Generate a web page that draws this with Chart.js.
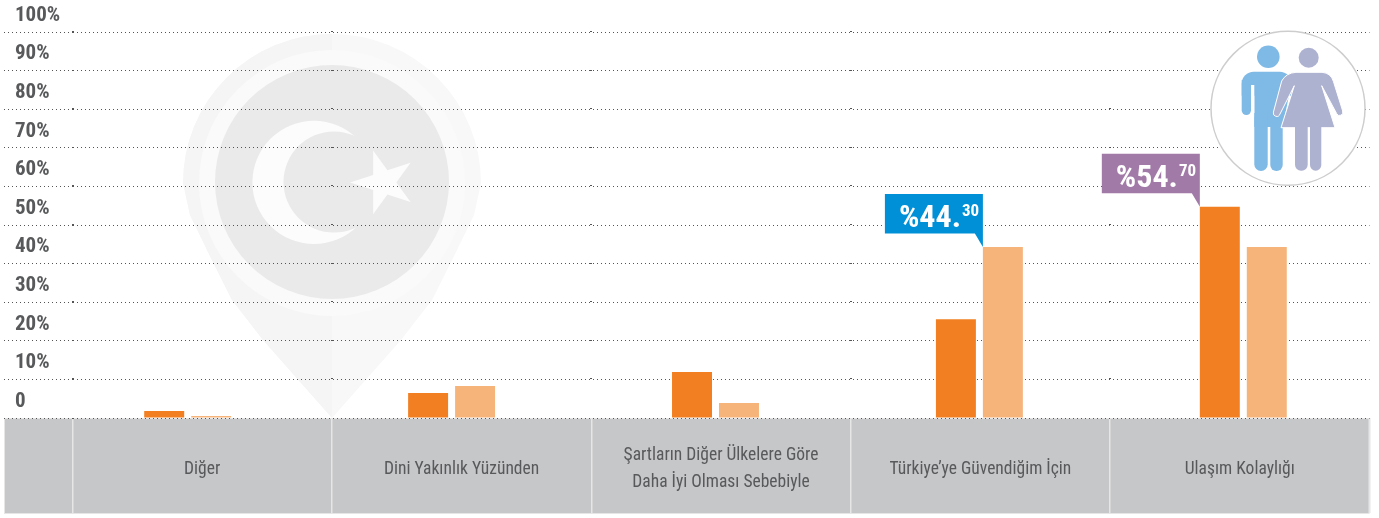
<!DOCTYPE html>
<html><head><meta charset="utf-8">
<style>html,body{margin:0;padding:0;background:#fff}#w{position:relative;width:1379px;height:518px}</style>
<script src="https://cdn.jsdelivr.net/npm/chart.js@4"></script></head>
<body><div id="w"><canvas id="c" width="1379" height="518"></canvas></div>
<script>
const categories = ["Diğer","Dini Yakınlık Yüzünden",["Şartların Diğer Ülkelere Göre","Daha İyi Olması Sebebiyle"],"Türkiye’ye Güvendiğim İçin","Ulaşım Kolaylığı"];
const barIndex = [0,1,2,3,4];
const darkValues = [1.8,6.5,11.9,25.6,54.7];
const lightValues = [0.5,8.3,3.9,44.3,44.3];
const callouts = [
  {series:1,index:3,main:"%44.",sup:"30",color:"#0090d7"},
  {series:0,index:4,main:"%54.",sup:"70",color:"#a27aa8"}
];
const narrow = '"Roboto Condensed","Open Sans Condensed","Roboto"';

const backdrop = {id:'backdrop',beforeDraw(chart){
  const c=chart.ctx,a=chart.chartArea;
  c.save();
  // grey label band
  c.fillStyle='#c6c7c9';
  c.fillRect(4,a.bottom,a.right-4,95);
  c.strokeStyle='#e6e6e6';c.lineWidth=1;
  c.strokeRect(4.5,a.bottom+0.5,a.right-5,95);
  // watermark pin
  const x=332,y=183,R=149;
  const edge=[[0,149],[32,142],[67,125],[117,100],[157,69],[235,0]];
  const half=()=>{c.beginPath();c.arc(x,y,R,Math.PI,0,false);
    edge.forEach(p=>c.lineTo(x+p[1],y+p[0]));
    edge.slice().reverse().forEach(p=>c.lineTo(x-p[1],y+p[0]));c.closePath();};
  half();c.fillStyle='#f8f8f8';c.fill();
  c.save();half();c.clip();c.fillStyle='#f5f5f5';c.fillRect(x-R-2,y-R-2,R+2,R*3);c.restore();
  c.fillStyle='#fafafa';c.beginPath();c.arc(x,y,133,0,7);c.fill();
  c.fillStyle='#eaeaea';c.beginPath();c.arc(x,182,117,0,7);c.fill();
  c.fillStyle='#fcfcfc';c.beginPath();c.arc(314,182.4,61.6,0,7);c.fill();
  c.fillStyle='#eaeaea';c.beginPath();c.arc(334,182,50.5,0,7);c.fill();
  c.fillStyle='#fcfcfc';c.beginPath();
  for(let i=0;i<10;i++){const r=i%2?12.8:33.5,t=Math.PI+i*Math.PI/5;
    c.lineTo(383.5+r*Math.cos(t),182.4+r*Math.sin(t));}
  c.closePath();c.fill();
  c.restore();
}};

const overlay = {id:'overlay',afterDatasetsDraw(chart){
  const c=chart.ctx;
  c.save();
  // darker dots where the cell boundaries meet the grid
  const xs=chart.scales.x,ys=chart.scales.y;
  c.fillStyle='#555';
  ys.ticks.forEach(t=>{ if(t.value===0) return;
    const py=Math.round(ys.getPixelForValue(t.value));
    barIndex.forEach(i=>{const px=xs.getPixelForTick(i)-(xs.getPixelForTick(1)-xs.getPixelForTick(0))/2;
      c.fillRect(Math.round(px)-1,py-1,2,1);});
  });
  callouts.forEach(o=>{
    const b=chart.getDatasetMeta(o.series).data[o.index];
    const tx=b.x-b.width/2,ty=b.y;
    c.fillStyle=o.color;
    c.beginPath();c.moveTo(tx,ty);c.lineTo(tx-8,ty-13.5);c.lineTo(tx-98,ty-13.5);
    c.lineTo(tx-98,ty-53);c.lineTo(tx,ty-53);c.closePath();c.fill();
    c.fillStyle='#fff';c.textBaseline='alphabetic';c.textAlign='left';
    c.font='bold 32px '+narrow;
    c.fillText(o.main,tx-84,ty-20);
    const w=c.measureText(o.main).width;
    c.font='bold 17px '+narrow;
    c.fillText(o.sup,tx-84+w+1,ty-31);
  });
  // people icon
  c.fillStyle='#fff';c.strokeStyle='#cdcdcd';c.lineWidth=1.5;
  c.beginPath();c.arc(1288,108.3,77,0,7);c.fill();c.stroke();
  const blue='#7fb9e6',lil='#aeb2d1';
  c.fillStyle=blue;
  c.beginPath();c.arc(1268.3,56.7,11.3,0,7);c.fill();
  c.beginPath();c.roundRect(1241.7,71.7,50,24,[12,12,0,0]);c.fill();
  c.beginPath();c.roundRect(1241.7,80,9.3,35,[0,0,5,5]);c.fill();
  c.beginPath();c.moveTo(1254.3,85);c.lineTo(1291,85);c.lineTo(1282.7,127);c.lineTo(1254.3,127);c.closePath();c.fill();
  c.fillStyle='#fff';c.fillRect(1251,85,3.3,32);
  c.fillStyle=blue;
  c.beginPath();c.roundRect(1254.3,113,13.4,58,[0,0,7,7]);c.fill();
  c.beginPath();c.roundRect(1270.3,113,12.4,58,[0,0,6,6]);c.fill();
  c.fillStyle=lil;
  c.beginPath();c.arc(1308.7,57.7,10,0,7);c.fill();
  c.strokeStyle='#fff';c.lineWidth=1;
  c.beginPath();c.moveTo(1296,72.3);c.lineTo(1322,72.3);c.quadraticCurveTo(1331,73,1333.5,81.7);
  c.lineTo(1342.7,111);c.arc(1339.6,112.3,3.2,-0.4,2.7);c.lineTo(1321.7,85.7);c.lineTo(1335,127.7);c.lineTo(1281,127.7);
  c.lineTo(1294.3,85.7);c.lineTo(1280,114);c.arc(1276.7,113,3.4,0.3,3.4);c.lineTo(1281.7,81);c.quadraticCurveTo(1286,73,1296,72.3);
  c.closePath();c.fill();c.stroke();
  c.beginPath();c.roundRect(1295,125,12.7,45.7,[0,0,6,6]);c.fill();
  c.beginPath();c.roundRect(1310,125,11.3,45.7,[0,0,5.6,5.6]);c.fill();
  c.restore();
}};

new Chart(document.getElementById('c'),{
  type:'bar',
  data:{labels:categories,datasets:[
    {label:'A',xAxisID:'xb',data:barIndex.map((x,i)=>({x,y:darkValues[i]})),backgroundColor:'#f28022',categoryPercentage:0.356,barPercentage:0.851},
    {label:'B',xAxisID:'xb',data:barIndex.map((x,i)=>({x,y:lightValues[i]})),backgroundColor:'#f6b47b',categoryPercentage:0.356,barPercentage:0.851}
  ]},
  plugins:[backdrop,overlay],
  options:{
    responsive:false,animation:false,
    layout:{padding:{left:15,right:9.5,top:32,bottom:4}},
    plugins:{legend:{display:false},tooltip:{enabled:false}},
    scales:{
      xb:{type:'linear',display:false,offset:false,min:-0.4365,max:4.4782,grid:{display:false},afterBuildTicks(s){s.ticks=barIndex.map(v=>({value:v}));}},
      x:{type:'category',labels:categories,position:'bottom',offset:true,
        afterFit(s){s.height=96;},
        border:{display:false},
        grid:{drawOnChartArea:false,drawTicks:true,tickLength:95,color:'#e6e6e6',tickColor:'#e6e6e6',tickWidth:1.5,lineWidth:1.5,offset:true},
        ticks:{padding:-57,crossAlign:'center',color:'#58595b',maxRotation:0,autoSkip:false,
          font:{family:narrow,size:17.5,lineHeight:1.54}}},
      y:{position:'left',min:0,max:100,
        afterFit(s){s.width=57.5;},
        border:{display:false,dash:[1,3]},
        grid:{color:'#555',lineWidth:1,tickLength:68.5,tickColor:'#555',tickBorderDash:[1,3]},
        ticks:{stepSize:10,padding:0,crossAlign:'far',labelOffset:-16.5,color:'#58595b',
          font:{family:narrow,size:21,weight:'bold'},callback:v=>v===0?'0':v+'%'}}
    }
  }
});
</script></body></html>
